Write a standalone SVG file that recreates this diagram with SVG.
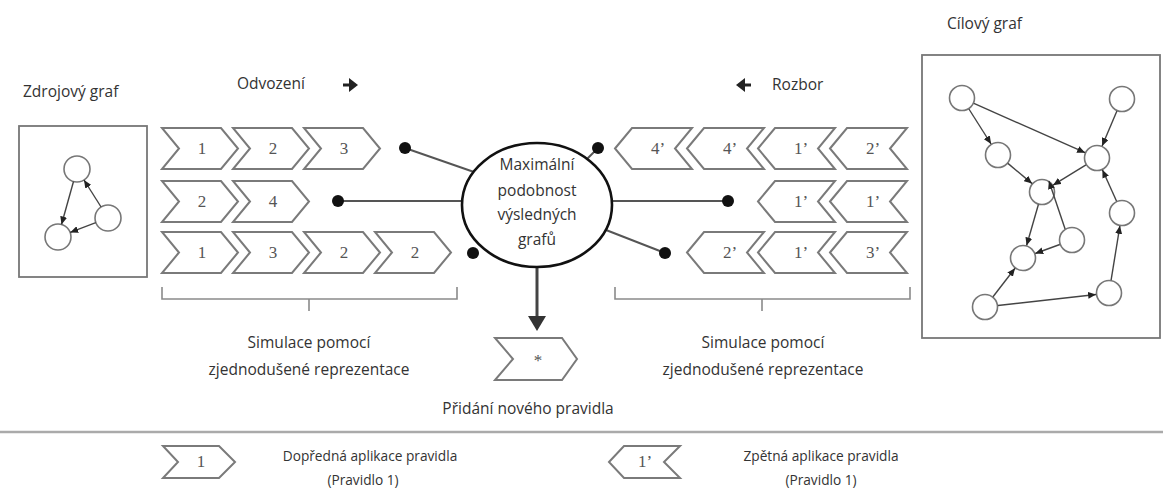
<svg xmlns="http://www.w3.org/2000/svg" width="1163" height="497" viewBox="0 0 1163 497">
  <style>
    .lbl { font-family: "Open Sans", "Liberation Sans", sans-serif; font-size: 15.5px; fill: #333; }
    .leg { font-family: "Open Sans", "Liberation Sans", sans-serif; font-size: 13.7px; fill: #333; }
    .mid { text-anchor: middle; }
    .chev { fill: #fff; stroke: #7a7a7a; stroke-width: 2; stroke-linejoin: miter; }
    .num { font-family: "Liberation Serif", serif; font-size: 17px; fill: #555; text-anchor: middle; }
    .dot { fill: #111; }
    .conn { stroke: #555; stroke-width: 2; fill: none; }
    .brace { stroke: #8a8a8a; stroke-width: 1.6; fill: none; }
    .gnode { fill: #fff; stroke: #777; stroke-width: 1.6; }
    .gedge { stroke: #444; stroke-width: 1.4; fill: none; marker-end: url(#tip); }
    .frame { fill: #fff; stroke: #777; stroke-width: 1.8; }
  </style>
  <defs>
    <marker id="tip" markerUnits="userSpaceOnUse" markerWidth="8" markerHeight="7" refX="8" refY="3.5" orient="auto">
      <path d="M0,0 L8,3.5 L0,7 Z" fill="#222"/>
    </marker>
    <!-- forward rule step: origin at top-left corner -->
    <path id="fwd" class="chev" d="M0,0 H59 L76,20.5 L59,41 H0 L17,20.5 Z"/>
    <!-- backward rule step: origin at the left tip -->
    <path id="bwd" class="chev" d="M0,20.5 L17,0 H77 L60,20.5 L77,41 H17 Z"/>
  </defs>

  <rect width="1163" height="497" fill="#fff"/>

  <!-- headings -->
  <text class="lbl" x="23" y="97">Zdrojový graf</text>
  <text class="lbl" x="237" y="89">Odvození</text>
  <path d="M343,85 H353" stroke="#222" stroke-width="3"/>
  <path d="M349,78 L358,85 L349,92 Z" fill="#222"/>
  <path d="M741,85 H751" stroke="#222" stroke-width="3"/>
  <path d="M745,78 L736,85 L745,92 Z" fill="#222"/>
  <text class="lbl" x="772" y="90">Rozbor</text>
  <text class="lbl" x="947" y="29">Cílový graf</text>

  <!-- source graph -->
  <g id="source-graph">
    <rect class="frame" x="19" y="126" width="128" height="151"/>
    <circle class="gnode" cx="77" cy="169" r="13"/>
    <circle class="gnode" cx="108" cy="218" r="13"/>
    <circle class="gnode" cx="58" cy="237" r="13"/>
    <line class="gedge" x1="73.5" y1="181.5" x2="61.5" y2="224.5"/>
    <line class="gedge" x1="101.1" y1="207" x2="84" y2="180"/>
    <line class="gedge" x1="95.8" y1="222.6" x2="70.2" y2="232.4"/>
  </g>

  <!-- target graph -->
  <g id="target-graph">
    <rect class="frame" x="922" y="55" width="238" height="283"/>
    <circle class="gnode" cx="962" cy="98" r="12.5"/>
    <circle class="gnode" cx="1122" cy="99" r="12.5"/>
    <circle class="gnode" cx="998" cy="155" r="12.5"/>
    <circle class="gnode" cx="1097" cy="158" r="12.5"/>
    <circle class="gnode" cx="1042" cy="192" r="12.5"/>
    <circle class="gnode" cx="1122" cy="213" r="12.5"/>
    <circle class="gnode" cx="1072" cy="240" r="12.5"/>
    <circle class="gnode" cx="1023" cy="258" r="12.5"/>
    <circle class="gnode" cx="985" cy="307" r="12.5"/>
    <circle class="gnode" cx="1109" cy="293" r="12.5"/>
    <line class="gedge" x1="968.9" y1="109" x2="991.1" y2="144"/>
    <line class="gedge" x1="973.9" y1="103.3" x2="1085.1" y2="152.7"/>
    <line class="gedge" x1="1116.9" y1="111" x2="1102.1" y2="146"/>
    <line class="gedge" x1="1007.9" y1="163.4" x2="1032.1" y2="183.6"/>
    <line class="gedge" x1="1086" y1="164.8" x2="1053" y2="185.2"/>
    <line class="gedge" x1="1038.4" y1="204.5" x2="1026.6" y2="245.5"/>
    <line class="gedge" x1="1065.1" y1="229" x2="1048.9" y2="181"/>
    <line class="gedge" x1="1059.8" y1="244.5" x2="1035.2" y2="253.5"/>
    <line class="gedge" x1="993" y1="296.7" x2="1015" y2="268.3"/>
    <line class="gedge" x1="997.9" y1="305.5" x2="1096.1" y2="294.5"/>
    <line class="gedge" x1="1111.1" y1="280.2" x2="1119.9" y2="225.8"/>
    <line class="gedge" x1="1116.6" y1="201.2" x2="1102.4" y2="169.8"/>
  </g>

  <!-- connectors to the similarity node -->
  <g id="connectors">
    <line class="conn" x1="405" y1="148" x2="474" y2="172"/>
    <line class="conn" x1="338" y1="201" x2="462" y2="201"/>
    <line class="conn" x1="587" y1="159" x2="598" y2="148"/>
    <line class="conn" x1="612" y1="201" x2="728" y2="201"/>
    <line class="conn" x1="606" y1="230" x2="665" y2="253"/>
    <circle class="dot" cx="405" cy="148" r="6"/>
    <circle class="dot" cx="338" cy="201" r="6"/>
    <circle class="dot" cx="473" cy="253" r="6"/>
    <circle class="dot" cx="598" cy="148" r="6"/>
    <circle class="dot" cx="728" cy="201" r="6"/>
    <circle class="dot" cx="665" cy="253" r="6"/>
    <line x1="537" y1="267" x2="537" y2="318" stroke="#444" stroke-width="3"/>
    <path d="M528,316 L546,316 L537,331 Z" fill="#333"/>
  </g>

  <!-- forward derivations -->
  <g id="derivation-1">
    <use href="#fwd" x="162" y="128"/><use href="#fwd" x="233" y="128"/><use href="#fwd" x="304" y="128"/>
    <text class="num" x="202" y="154">1</text><text class="num" x="273" y="154">2</text><text class="num" x="344" y="154">3</text>
  </g>
  <g id="derivation-2">
    <use href="#fwd" x="162" y="181"/><use href="#fwd" x="233" y="181"/>
    <text class="num" x="202" y="207">2</text><text class="num" x="273" y="207">4</text>
  </g>
  <g id="derivation-3">
    <use href="#fwd" x="162" y="232"/><use href="#fwd" x="233" y="232"/><use href="#fwd" x="304" y="232"/><use href="#fwd" x="375" y="232"/>
    <text class="num" x="202" y="258">1</text><text class="num" x="273" y="258">3</text><text class="num" x="344" y="258">2</text><text class="num" x="415" y="258">2</text>
  </g>

  <!-- backward analyses -->
  <g id="analysis-1">
    <use href="#bwd" x="615" y="128"/><use href="#bwd" x="687" y="128"/><use href="#bwd" x="758" y="128"/><use href="#bwd" x="830" y="128"/>
    <text class="num" x="658" y="154">4’</text><text class="num" x="730" y="154">4’</text><text class="num" x="801" y="154">1’</text><text class="num" x="873" y="154">2’</text>
  </g>
  <g id="analysis-2">
    <use href="#bwd" x="758" y="181"/><use href="#bwd" x="830" y="181"/>
    <text class="num" x="801" y="207">1’</text><text class="num" x="873" y="207">1’</text>
  </g>
  <g id="analysis-3">
    <use href="#bwd" x="687" y="232"/><use href="#bwd" x="758" y="232"/><use href="#bwd" x="830" y="232"/>
    <text class="num" x="730" y="258">2’</text><text class="num" x="801" y="258">1’</text><text class="num" x="873" y="258">3’</text>
  </g>

  <!-- similarity node -->
  <g id="similarity">
    <ellipse cx="537" cy="205" rx="75" ry="62" fill="#fff" stroke="#111" stroke-width="2.6"/>
    <text class="lbl mid" x="537" y="170" font-size="15">Maximální</text>
    <text class="lbl mid" x="537" y="196" font-size="15">podobnost</text>
    <text class="lbl mid" x="537" y="220" font-size="15">výsledných</text>
    <text class="lbl mid" x="537" y="245" font-size="15">grafů</text>
  </g>

  <!-- simulation braces -->
  <g id="simulation-left">
    <path class="brace" d="M162,287 V299 H457 V287 M309,299 V311"/>
    <text class="lbl mid" x="309" y="348">Simulace pomocí</text>
    <text class="lbl mid" x="309" y="375">zjednodušené reprezentace</text>
  </g>
  <g id="simulation-right">
    <path class="brace" d="M615,287 V299 H910 V287 M762,299 V311"/>
    <text class="lbl mid" x="763" y="348">Simulace pomocí</text>
    <text class="lbl mid" x="763" y="375">zjednodušené reprezentace</text>
  </g>

  <!-- new rule -->
  <g id="new-rule">
    <path class="chev" d="M495,338 H562 L577,359 L562,380 H495 L513,359 Z"/>
    <text class="num" x="538" y="366" font-size="14">*</text>
    <text class="lbl mid" x="528" y="414">Přidání nového pravidla</text>
  </g>

  <line x1="0" y1="432" x2="1163" y2="432" stroke="#aaa" stroke-width="2.4"/>

  <!-- legend -->
  <g id="legend-forward">
    <path class="chev" d="M163,446 H219 L235,462 L219,478 H163 L178,462 Z"/>
    <text class="num" x="201" y="467" font-size="14">1</text>
    <text class="leg mid" x="370" y="461">Dopředná aplikace pravidla</text>
    <text class="leg mid" x="363" y="485">(Pravidlo 1)</text>
  </g>
  <g id="legend-backward">
    <path class="chev" d="M609,462 L624,446 H680 L664,462 L680,478 H624 Z"/>
    <text class="num" x="645" y="467" font-size="14">1’</text>
    <text class="leg mid" x="821" y="461">Zpětná aplikace pravidla</text>
    <text class="leg mid" x="821" y="485">(Pravidlo 1)</text>
  </g>
</svg>
